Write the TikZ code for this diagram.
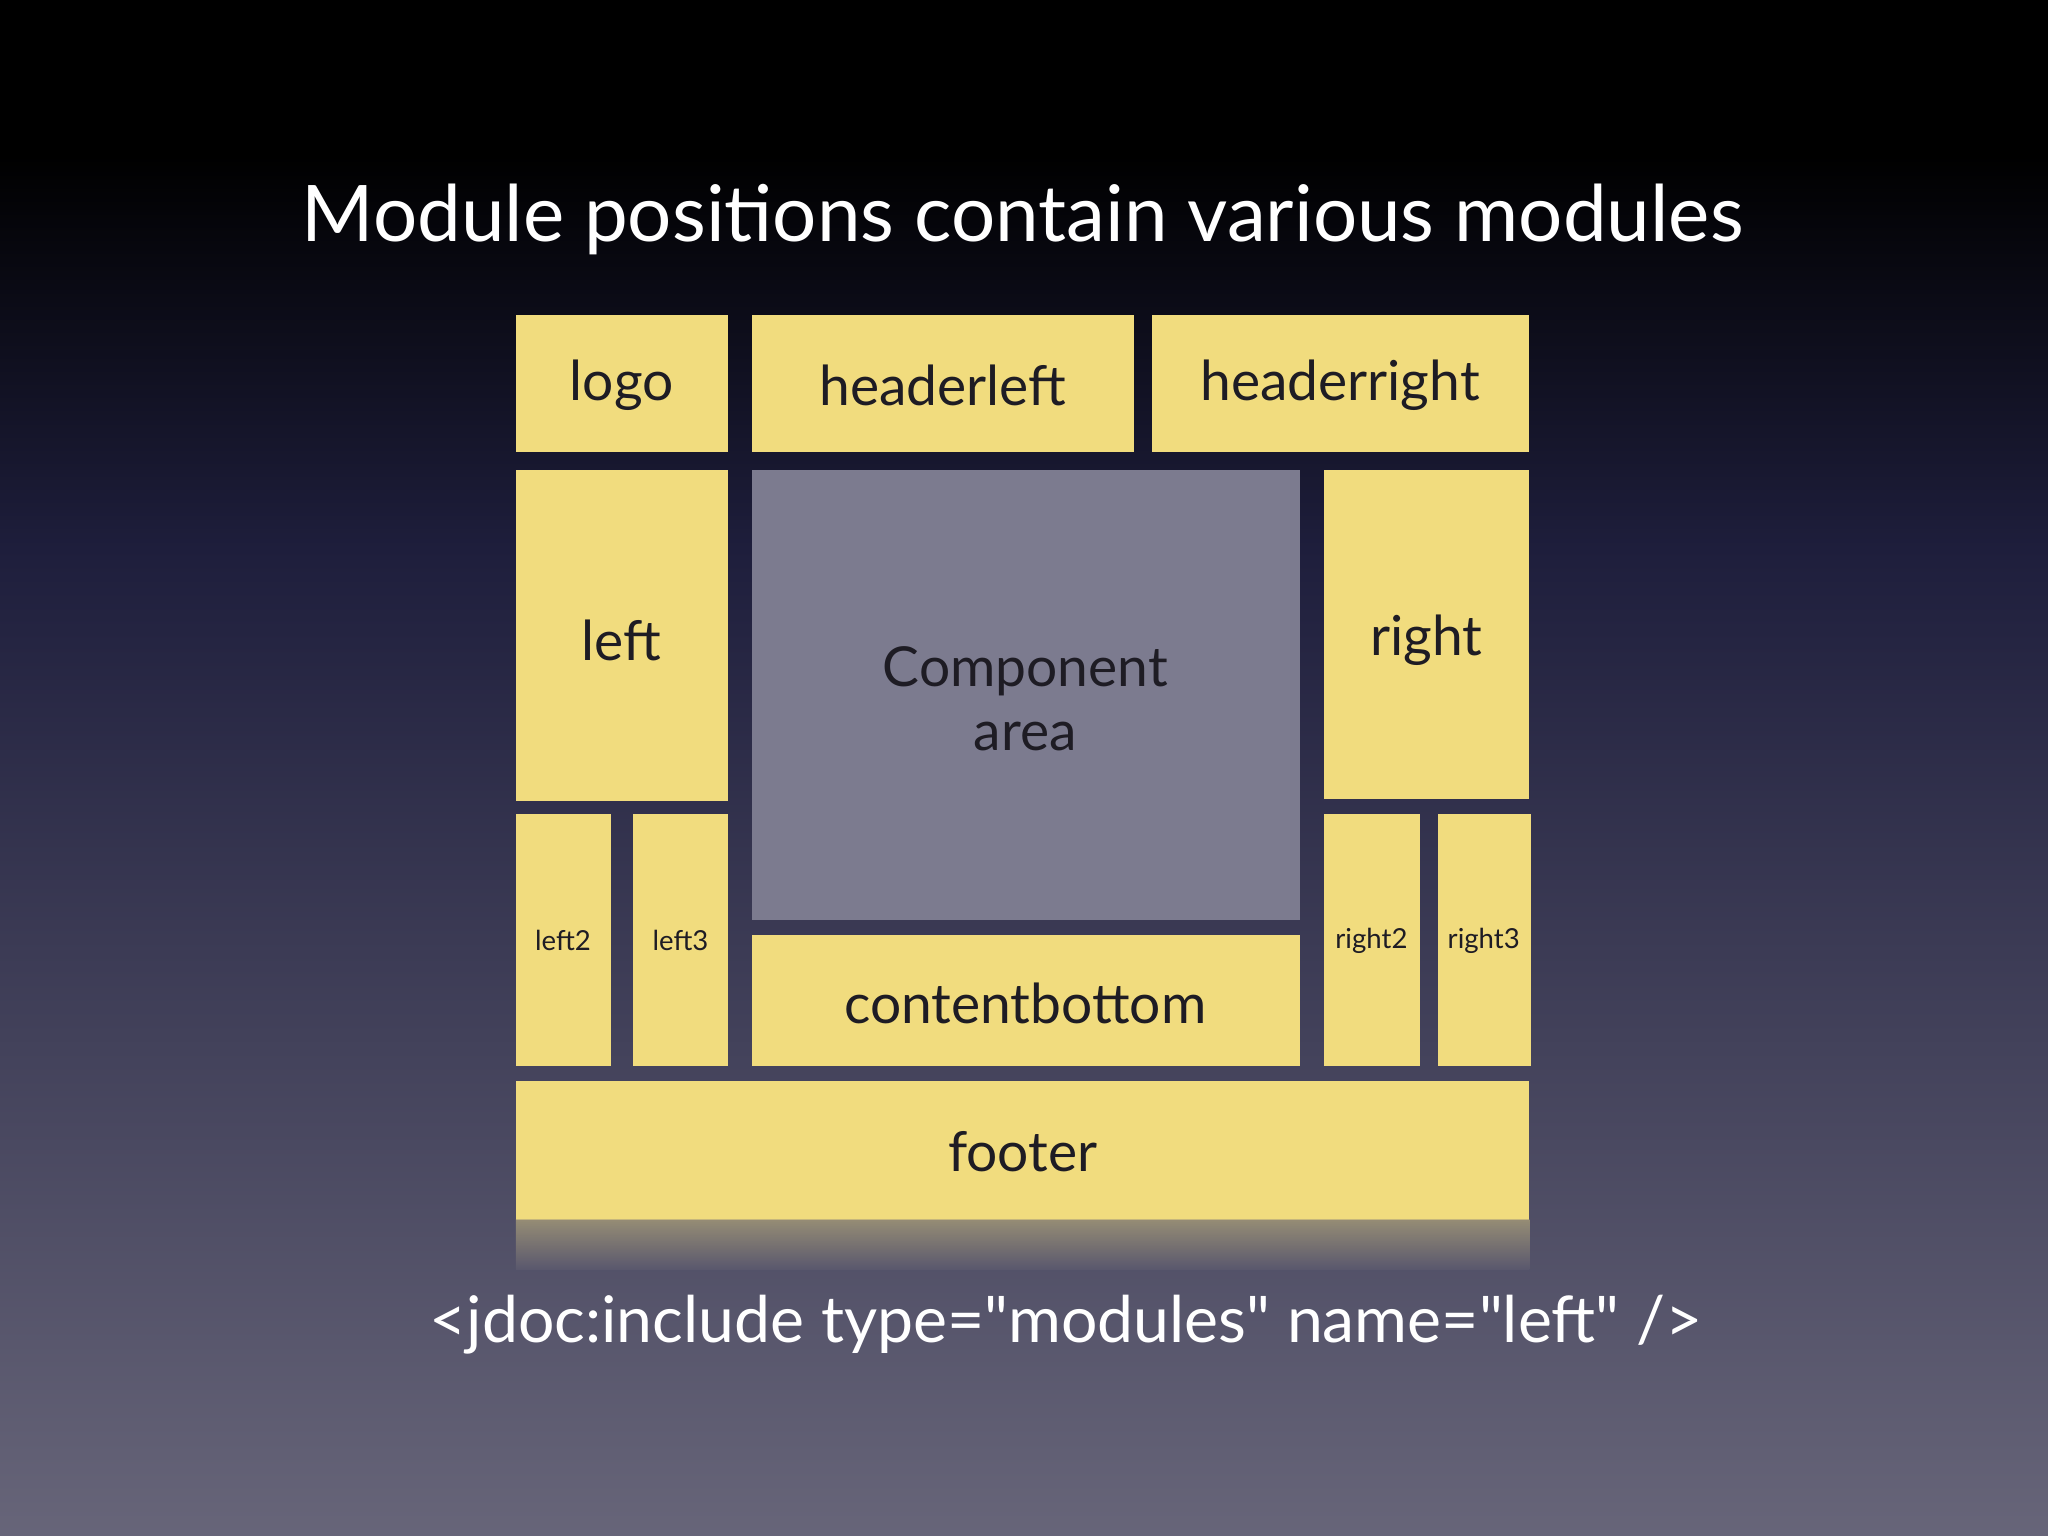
\documentclass[tikz,border=0pt]{standalone}
\usepackage{fontspec}
\setmainfont{Lato}
\newfontfamily\codefont[Mapping=,Ligatures=ResetAll]{Lato}
\usetikzlibrary{fadings}
\definecolor{bgtop}{HTML}{000000}
\definecolor{bgmid}{HTML}{1E1E3C}
\definecolor{bgbot}{HTML}{676579}
\definecolor{yel}{HTML}{F1DC7E}
\definecolor{comp}{HTML}{7C7B8F}
\definecolor{lbl}{HTML}{1E1C24}
\begin{document}
\begin{tikzpicture}[x=0.01cm,y=-0.01cm,
  mod/.style={fill=yel,draw=none},
  big/.style={font=\fontsize{12}{14}\selectfont,text=lbl},
  small/.style={font=\fontsize{6}{7}\selectfont,text=lbl}]
\useasboundingbox (0,0) rectangle (1568,1176);
\fill[bgtop] (0,0) rectangle (1568,120);
\shade[top color=bgtop,bottom color=bgmid] (0,119) rectangle (1568,420);
\shade[top color=bgmid,bottom color=bgbot] (0,419) rectangle (1568,1176);
\node[font=\fontsize{17}{20}\selectfont,text=white] (title) at (783,168) {Module positions contain various modules};
\fill[mod] (395,241) rectangle (557,346); \node[big] (logo) at (476,295) {logo};
\fill[mod] (576,241) rectangle (868,346); \node[big] (hl) at (722,295) {headerleft};
\fill[mod] (882,241) rectangle (1171,346); \node[big] (hr) at (1026,295) {headerright};
\fill[mod] (395,360) rectangle (557,613); \node[big] (left) at (476,490) {left};
\fill[comp] (576,360) rectangle (995,704);
\node[big,align=center] (ca) at (785,535) {Component\\area};
\fill[mod] (1014,360) rectangle (1171,612); \node[big] (right) at (1092,490) {right};
\fill[mod] (395,623) rectangle (468,816); \node[small] (l2) at (431,720) {left2};
\fill[mod] (485,623) rectangle (557,816); \node[small] (l3) at (521,720) {left3};
\fill[mod] (576,716) rectangle (995,816); \node[big] (cb) at (785,768) {contentbottom};
\fill[mod] (1014,623) rectangle (1087,816); \node[small] (r2) at (1050,720) {right2};
\fill[mod] (1101,623) rectangle (1172,816); \node[small] (r3) at (1136,720) {right3};
\fill[mod] (395,828) rectangle (1171,934); \node[big] (footer) at (783,882) {footer};
\shade[top color=yel!55!bgbot,bottom color=bgbot!85!bgmid,opacity=0.7] (395,934) rectangle (1171,972);
\node[font=\codefont\fontsize{14}{17}\selectfont,text=white] (code) at (816,1014) {<jdoc:include type="modules" name="left" />};
\end{tikzpicture}
\end{document}
